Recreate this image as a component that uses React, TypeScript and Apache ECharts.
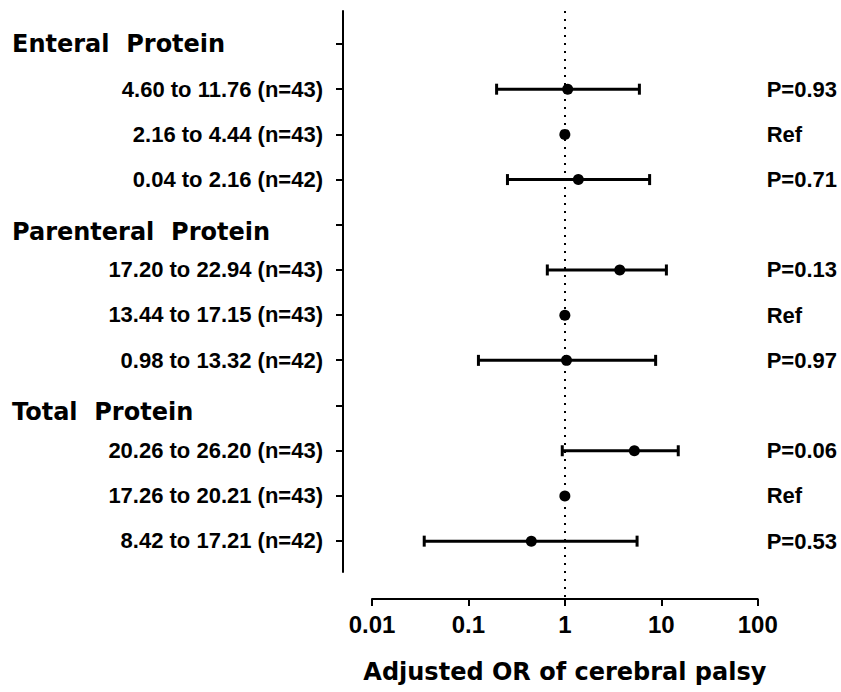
import React, { useEffect, useRef } from "react";
import * as echarts from "echarts";

const rowLabels = [
  "Enteral  Protein",
  "4.60 to 11.76 (n=43)",
  "2.16 to 4.44 (n=43)",
  "0.04 to 2.16 (n=42)",
  "Parenteral  Protein",
  "17.20 to 22.94 (n=43)",
  "13.44 to 17.15 (n=43)",
  "0.98 to 13.32 (n=42)",
  "Total  Protein",
  "20.26 to 26.20 (n=43)",
  "17.26 to 20.21 (n=43)",
  "8.42 to 17.21 (n=42)",
];
const headingRows = [0, 4, 8];
const orValues = [null, 1.07, 1.0, 1.38, null, 3.71, 1.0, 1.04, null, 5.26, 1.0, 0.449];
const ciLower = [null, 0.196, null, 0.254, null, 0.658, null, 0.127, null, 0.94, null, 0.0348];
const ciUpper = [null, 5.93, null, 7.57, null, 11.3, null, 8.74, null, 15.0, null, 5.61];
const pLabels = ["", "P=0.93", "Ref", "P=0.71", "", "P=0.13", "Ref", "P=0.97", "", "P=0.06", "Ref", "P=0.53"];
const xTickLabels = ["0.01", "0.1", "1", "10", "100"];
const xTitle = "Adjusted OR of cerebral palsy";

const ARIAL = "'Liberation Sans', Arial, Helvetica, sans-serif";
const WIDE = "'DejaVu Sans', sans-serif";

export default function App() {
  const ref = useRef<HTMLDivElement>(null);
  useEffect(() => {
    if (!ref.current) return;
    const chart = echarts.init(ref.current, undefined, { renderer: "svg" });
    const rowIdx = rowLabels.map((_, i) => i);
    const dataRows = rowIdx.filter((i) => !headingRows.includes(i));
    const pointData = dataRows.map((i) => [orValues[i], i]);
    const ciData = dataRows
      .filter((i) => ciLower[i] != null && ciUpper[i] != null)
      .map((i) => [ciLower[i], ciUpper[i], i]);

    const option: any = {
      animation: false,
      backgroundColor: "#fff",
      grid: [
        { left: 343, top: 11, width: 415, height: 561, outerBoundsMode: "none", containLabel: false },
        { left: 372, top: 11, width: 385.7, height: 588, outerBoundsMode: "none", containLabel: false },
      ],
      xAxis: [
        { gridIndex: 0, type: "value", show: false, min: 0, max: 1 },
        {
          gridIndex: 1,
          type: "log",
          logBase: 10,
          min: 0.01,
          max: 100,
          position: "bottom",
          axisLine: { show: true, onZero: false, lineStyle: { color: "#000", width: 2 } },
          axisTick: { show: true, length: 7, lineStyle: { color: "#000", width: 2 } },
          minorTick: { show: false },
          splitLine: { show: false },
          axisLabel: {
            margin: 13,
            color: "#000",
            fontFamily: ARIAL,
            fontWeight: "bold",
            fontSize: 24,
            formatter: (v: number) => xTickLabels[Math.round(Math.log10(v)) + 2] ?? String(v),
          },
          name: xTitle,
          nameLocation: "middle",
          nameGap: 61,
          nameTextStyle: { color: "#000", fontFamily: WIDE, fontWeight: "bold", fontSize: 24 },
        },
      ],
      yAxis: [
        {
          gridIndex: 0,
          type: "value",
          inverse: true,
          min: -0.73,
          max: 11.69,
          position: "left",
          splitLine: { show: false },
          axisLine: { show: true, onZero: false, lineStyle: { color: "#000", width: 2 } },
          axisTick: { show: true, length: 7, customValues: rowIdx, lineStyle: { color: "#000", width: 2 } },
          axisLabel: {
            customValues: rowIdx,
            margin: 20,
            color: "#000",
            fontFamily: ARIAL,
            fontWeight: "bold",
            fontSize: 22,
            formatter: (v: number) => {
              const i = Math.round(v);
              const t = rowLabels[i] ?? "";
              if (headingRows.includes(i)) return `{${i === 0 ? "h0" : "h1"}|${t}}`;
              return t;
            },
            rich: {
              h0: { fontFamily: WIDE, fontWeight: "bold", fontSize: 24, color: "#000", width: 311, align: "left" },
              h1: {
                fontFamily: WIDE,
                fontWeight: "bold",
                fontSize: 24,
                color: "#000",
                width: 311,
                align: "left",
                padding: [14, 0, 0, 0],
              },
            },
          },
        },
        {
          gridIndex: 1,
          type: "value",
          inverse: true,
          min: -0.73,
          max: 12.28,
          position: "right",
          splitLine: { show: false },
          axisLine: { show: false, onZero: false },
          axisTick: { show: false },
          axisLabel: {
            customValues: dataRows,
            margin: 9,
            color: "#000",
            fontFamily: ARIAL,
            fontWeight: "bold",
            fontSize: 22,
            formatter: (v: number) => pLabels[Math.round(v)] ?? "",
          },
        },
      ],
      series: [
        {
          type: "custom",
          xAxisIndex: 1,
          yAxisIndex: 1,
          encode: { x: [0, 1], y: 2 },
          data: ciData,
          renderItem: (params: any, api: any) => {
            const lo = api.coord([api.value(0), api.value(2)]);
            const hi = api.coord([api.value(1), api.value(2)]);
            const st = { stroke: "#000", lineWidth: 3 };
            const h = 5.5;
            return {
              type: "group",
              children: [
                { type: "line", shape: { x1: lo[0], y1: lo[1], x2: hi[0], y2: hi[1] }, style: st },
                { type: "line", shape: { x1: lo[0], y1: lo[1] - h, x2: lo[0], y2: lo[1] + h }, style: st },
                { type: "line", shape: { x1: hi[0], y1: hi[1] - h, x2: hi[0], y2: hi[1] + h }, style: st },
              ],
            };
          },
          z: 2,
        },
        {
          type: "scatter",
          xAxisIndex: 1,
          yAxisIndex: 1,
          data: pointData,
          symbol: "circle",
          symbolSize: 11,
          itemStyle: { color: "#000", opacity: 1 },
          z: 3,
          markLine: {
            silent: true,
            symbol: ["none", "none"],
            label: { show: false },
            lineStyle: { color: "#000", width: 2, type: [2, 6], opacity: 1 },
            data: [{ xAxis: 1 }],
            z: 1,
          },
        },
      ],
    };
    chart.setOption(option);
    return () => chart.dispose();
  }, []);
  return <div ref={ref} style={{ position: "fixed", left: 0, top: 0, width: 841, height: 692 }} />;
}
